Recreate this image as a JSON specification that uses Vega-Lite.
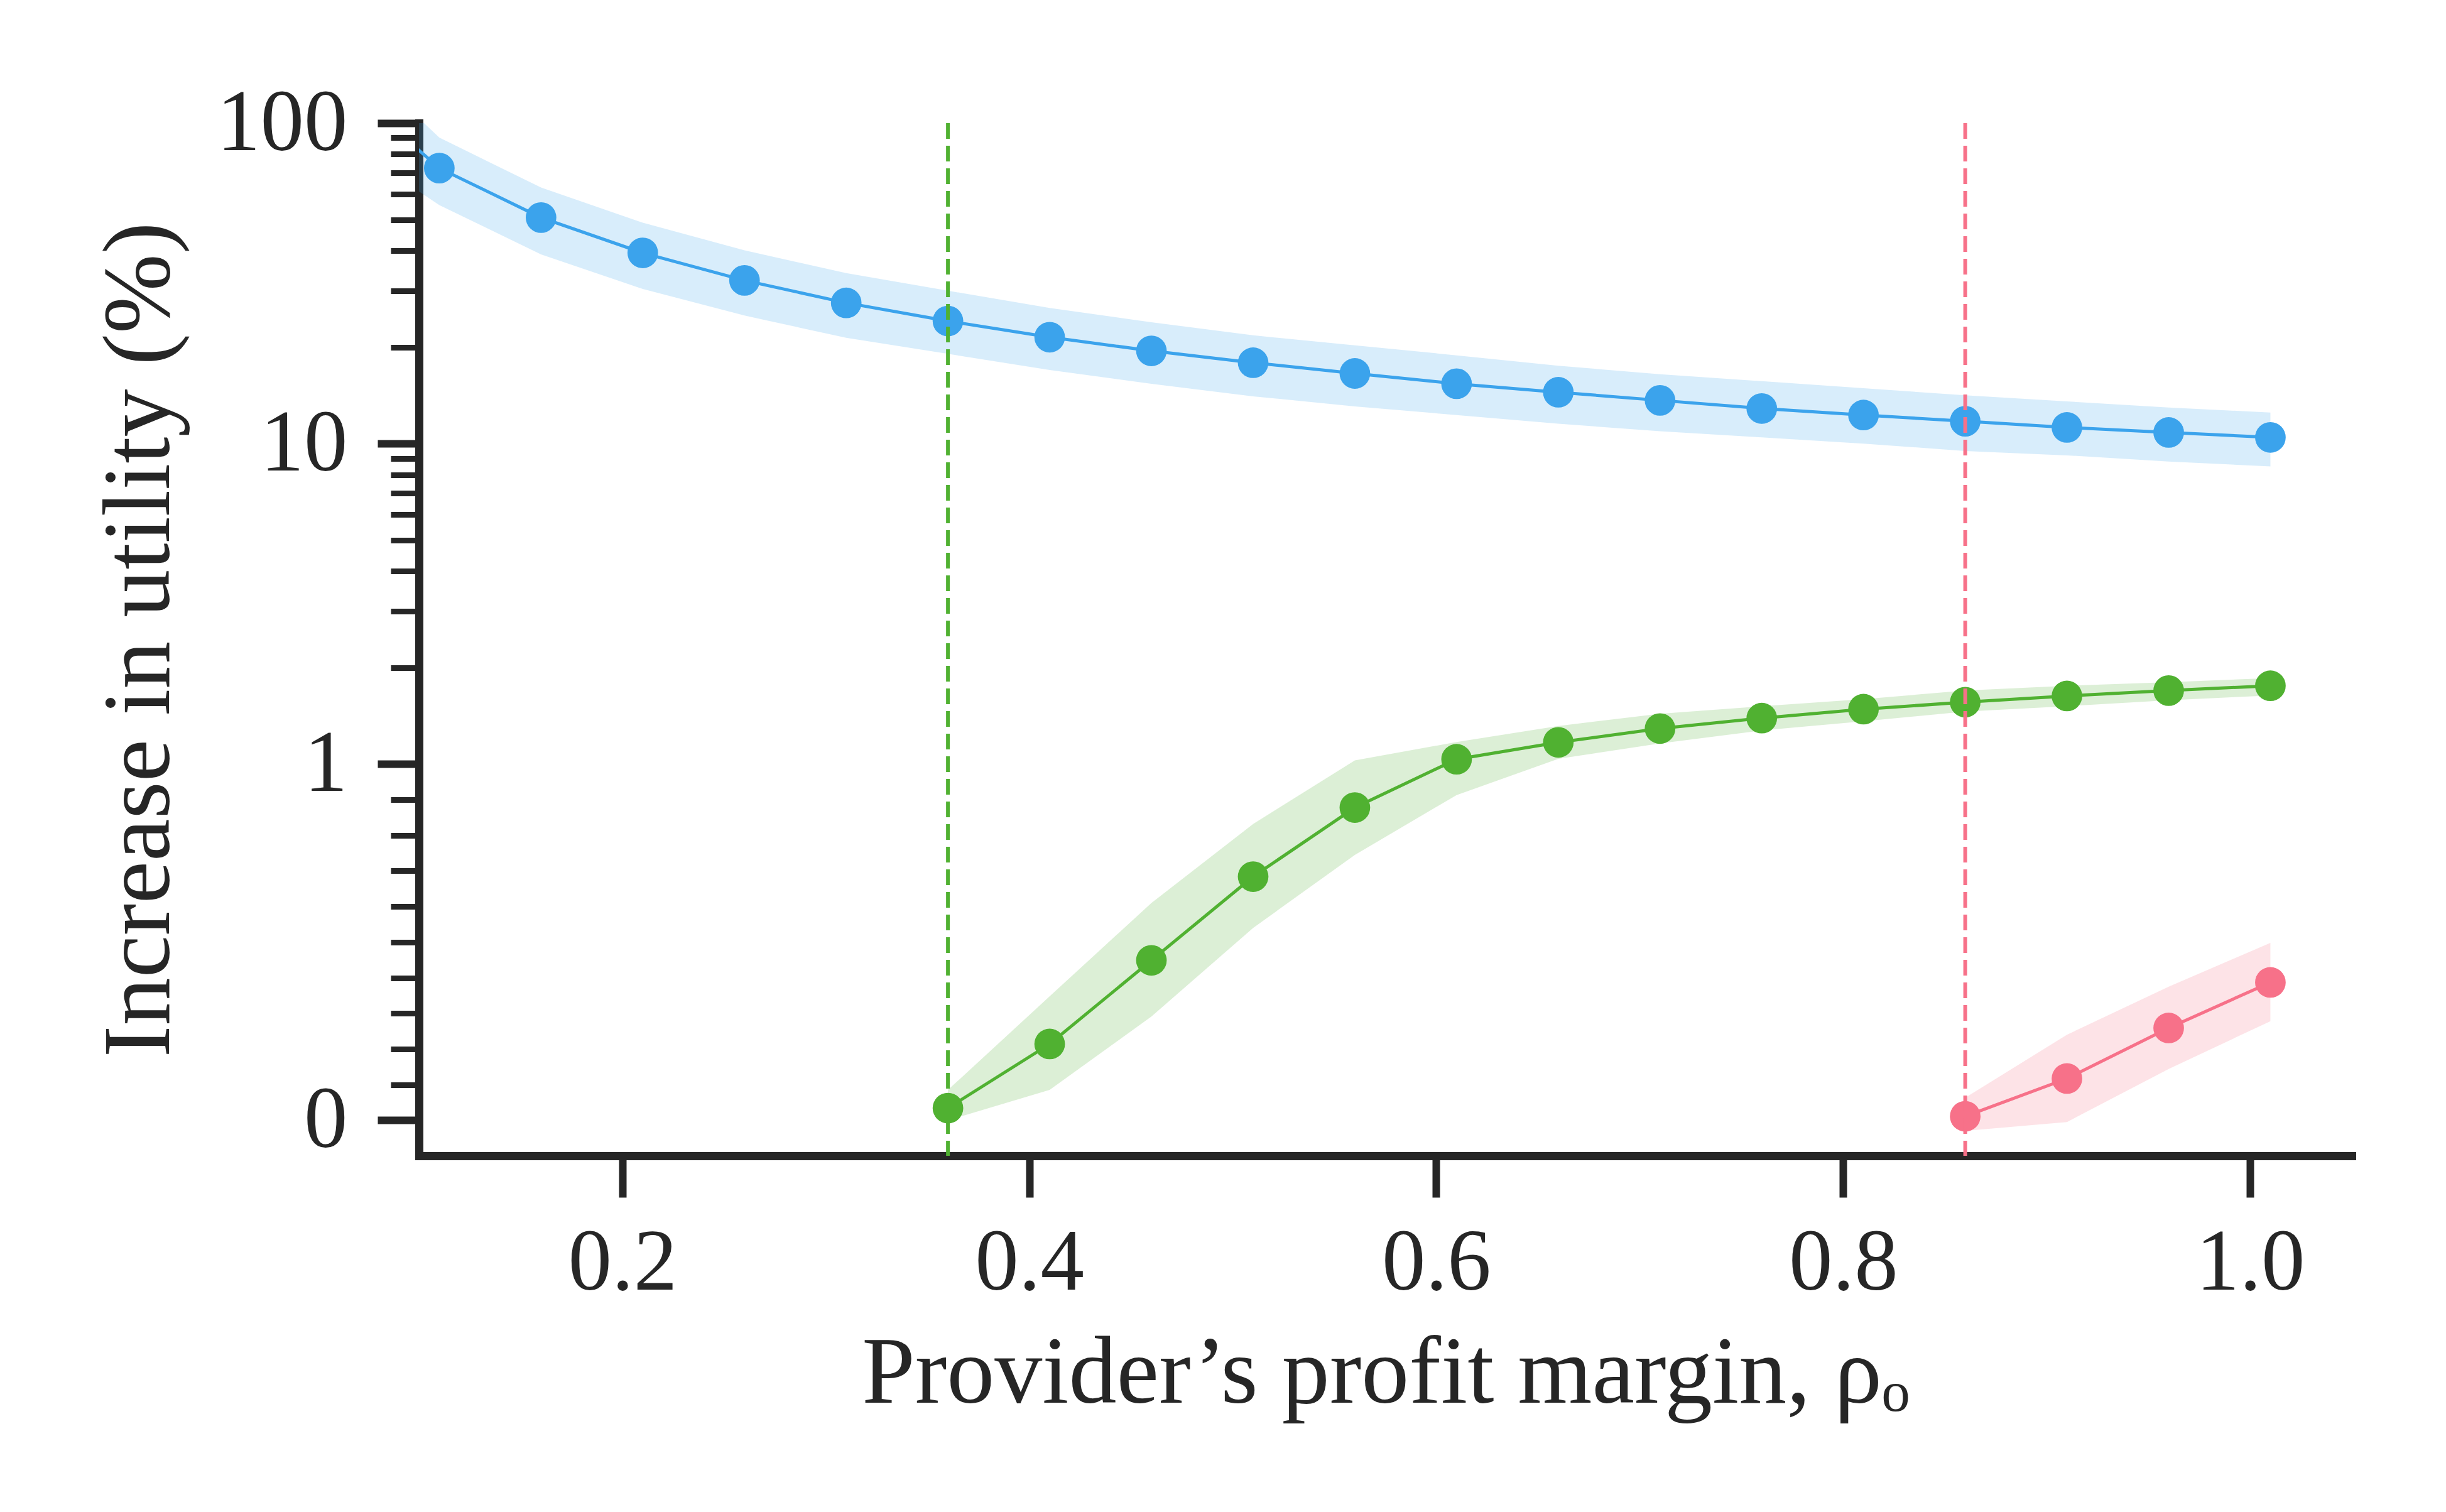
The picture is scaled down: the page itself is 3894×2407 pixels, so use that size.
{
  "$schema": "https://vega.github.io/schema/vega-lite/v6.json",
  "width": 3077,
  "height": 1644,
  "autosize": {"type": "none"},
  "padding": {"left": 667, "top": 196, "right": 150, "bottom": 567},
  "background": "white",
  "config": {"view": {"stroke": null}, "font": "Liberation Serif"},
  "datasets": {
    "series": [
      {"s": "A", "x": 0.06, "y": 130, "lo": 91, "hi": 156},
      {"s": "A", "x": 0.11, "y": 72.5, "lo": 55.7, "hi": 90.1},
      {"s": "A", "x": 0.16, "y": 50.8, "lo": 39.0, "hi": 63.1},
      {"s": "A", "x": 0.21, "y": 39.4, "lo": 30.4, "hi": 49.0},
      {"s": "A", "x": 0.26, "y": 32.4, "lo": 25.1, "hi": 40.1},
      {"s": "A", "x": 0.31, "y": 27.6, "lo": 21.5, "hi": 34.1},
      {"s": "A", "x": 0.36, "y": 24.2, "lo": 19.1, "hi": 30.0},
      {"s": "A", "x": 0.41, "y": 21.6, "lo": 17.0, "hi": 26.6},
      {"s": "A", "x": 0.46, "y": 19.5, "lo": 15.4, "hi": 24.0},
      {"s": "A", "x": 0.51, "y": 17.9, "lo": 14.1, "hi": 21.9},
      {"s": "A", "x": 0.56, "y": 16.6, "lo": 13.1, "hi": 20.3},
      {"s": "A", "x": 0.61, "y": 15.4, "lo": 12.3, "hi": 18.9},
      {"s": "A", "x": 0.66, "y": 14.5, "lo": 11.6, "hi": 17.5},
      {"s": "A", "x": 0.71, "y": 13.7, "lo": 11.0, "hi": 16.5},
      {"s": "A", "x": 0.76, "y": 12.9, "lo": 10.5, "hi": 15.7},
      {"s": "A", "x": 0.81, "y": 12.3, "lo": 10.0, "hi": 14.9},
      {"s": "A", "x": 0.86, "y": 11.8, "lo": 9.5, "hi": 14.2},
      {"s": "A", "x": 0.91, "y": 11.3, "lo": 9.2, "hi": 13.6},
      {"s": "A", "x": 0.96, "y": 10.9, "lo": 8.8, "hi": 13.0},
      {"s": "A", "x": 1.01, "y": 10.5, "lo": 8.5, "hi": 12.5},
      {"s": "B", "x": 0.36, "y": 0.034, "lo": 0.0, "hi": 0.085},
      {"s": "B", "x": 0.41, "y": 0.214, "lo": 0.085, "hi": 0.348},
      {"s": "B", "x": 0.46, "y": 0.449, "lo": 0.291, "hi": 0.61},
      {"s": "B", "x": 0.51, "y": 0.684, "lo": 0.54, "hi": 0.832},
      {"s": "B", "x": 0.56, "y": 0.878, "lo": 0.745, "hi": 1.03},
      {"s": "B", "x": 0.61, "y": 1.039, "lo": 0.913, "hi": 1.178},
      {"s": "B", "x": 0.66, "y": 1.175, "lo": 1.043, "hi": 1.32},
      {"s": "B", "x": 0.71, "y": 1.294, "lo": 1.166, "hi": 1.44},
      {"s": "B", "x": 0.76, "y": 1.397, "lo": 1.276, "hi": 1.517},
      {"s": "B", "x": 0.81, "y": 1.485, "lo": 1.366, "hi": 1.6},
      {"s": "B", "x": 0.86, "y": 1.564, "lo": 1.461, "hi": 1.699},
      {"s": "B", "x": 0.91, "y": 1.636, "lo": 1.517, "hi": 1.756},
      {"s": "B", "x": 0.96, "y": 1.699, "lo": 1.587, "hi": 1.804},
      {"s": "B", "x": 1.01, "y": 1.756, "lo": 1.642, "hi": 1.859},
      {"s": "C", "x": 0.86, "y": 0.011, "lo": -0.03, "hi": 0.063},
      {"s": "C", "x": 0.91, "y": 0.117, "lo": -0.005, "hi": 0.24},
      {"s": "C", "x": 0.96, "y": 0.259, "lo": 0.144, "hi": 0.375},
      {"s": "C", "x": 1.01, "y": 0.387, "lo": 0.278, "hi": 0.498}
    ],
    "thresholds": [
      {"s": "B", "x": 0.36},
      {"s": "C", "x": 0.86}
    ]
  },
  "layer": [
    {
      "data": {"name": "series"},
      "mark": {"type": "area", "opacity": 0.2, "clip": true},
      "encoding": {
        "x": {
          "field": "x", "type": "quantitative",
          "scale": {"domain": [0.1, 1.05], "nice": false, "zero": false},
          "axis": {
            "values": [0.2, 0.4, 0.6, 0.8, 1.0], "format": ".1f",
            "title": "Provider’s profit margin, ρₒ",
            "grid": false,
            "domainColor": "#262626", "domainWidth": 13, "domainCap": "square",
            "tickColor": "#262626", "tickWidth": 12, "tickSize": 66,
            "labelFont": "Liberation Serif", "labelFontSize": 139, "labelColor": "#262626", "labelPadding": 36, "labelLimit": 0,
            "titleFont": "Liberation Serif", "titleFontSize": 152, "titleFontWeight": "normal", "titleColor": "#262626", "titlePadding": 72
          }
        },
        "y": {
          "field": "lo", "type": "quantitative",
          "scale": {
            "domain": [-0.1, 1, 1.25, 1.5, 1.75, 2, 2.5, 3, 3.5, 4, 5, 6, 7, 8, 9, 10, 12.5, 15, 17.5, 20, 25, 30, 35, 40, 50, 60, 70, 80, 90, 100],
            "range": [1644, 1020.4, 970.96, 930.56, 896.4, 866.81, 817.37, 776.97, 742.82, 713.23, 663.79, 623.39, 589.23, 559.64, 533.55, 510.2, 460.76, 420.36, 386.2, 356.61, 307.17, 266.77, 232.62, 203.03, 153.59, 113.19, 79.03, 49.44, 23.35, 0],
            "zero": false, "nice": false
          },
          "axis": {
            "orient": "left",
            "values": [0, 1, 10, 100], "format": "d",
            "title": "Increase in utility (%)",
            "grid": false,
            "domainColor": "#262626", "domainWidth": 13, "domainCap": "square",
            "tickColor": "#262626", "tickWidth": 12, "tickSize": 66,
            "labelFont": "Liberation Serif", "labelFontSize": 139, "labelColor": "#262626", "labelPadding": 48, "labelLimit": 0,
            "titleFont": "Liberation Serif", "titleFontSize": 152, "titleFontWeight": "normal", "titleColor": "#262626", "titlePadding": 167
          }
        },
        "y2": {"field": "hi"},
        "color": {
          "field": "s", "type": "nominal",
          "scale": {"domain": ["A", "B", "C"], "range": ["#3ba3ec", "#50b131", "#f77189"]},
          "legend": null
        }
      }
    },
    {
      "data": {"name": "series"},
      "mark": {"type": "line", "strokeWidth": 5, "clip": true},
      "encoding": {
        "x": {"field": "x", "type": "quantitative"},
        "y": {"field": "y", "type": "quantitative", "axis": null},
        "color": {"field": "s", "type": "nominal", "legend": null}
      }
    },
    {
      "data": {"name": "series"},
      "mark": {"type": "circle", "size": 2376, "opacity": 1, "clip": true},
      "encoding": {
        "x": {"field": "x", "type": "quantitative"},
        "y": {
          "field": "y", "type": "quantitative",
          "axis": {
            "orient": "left",
            "values": [0.1, 0.2, 0.3, 0.4, 0.5, 0.6, 0.7, 0.8, 0.9, 2, 3, 4, 5, 6, 7, 8, 9, 20, 30, 40, 50, 60, 70, 80, 90],
            "labels": false, "domain": false, "grid": false, "title": null,
            "tickColor": "#262626", "tickWidth": 9, "tickSize": 45
          }
        },
        "color": {"field": "s", "type": "nominal", "legend": null}
      }
    },
    {
      "data": {"name": "thresholds"},
      "mark": {"type": "rule", "strokeDash": [25, 11], "strokeWidth": 6},
      "encoding": {
        "x": {"field": "x", "type": "quantitative"},
        "color": {"field": "s", "type": "nominal", "legend": null}
      }
    }
  ],
  "resolve": {"axis": {"y": "independent"}}
}
